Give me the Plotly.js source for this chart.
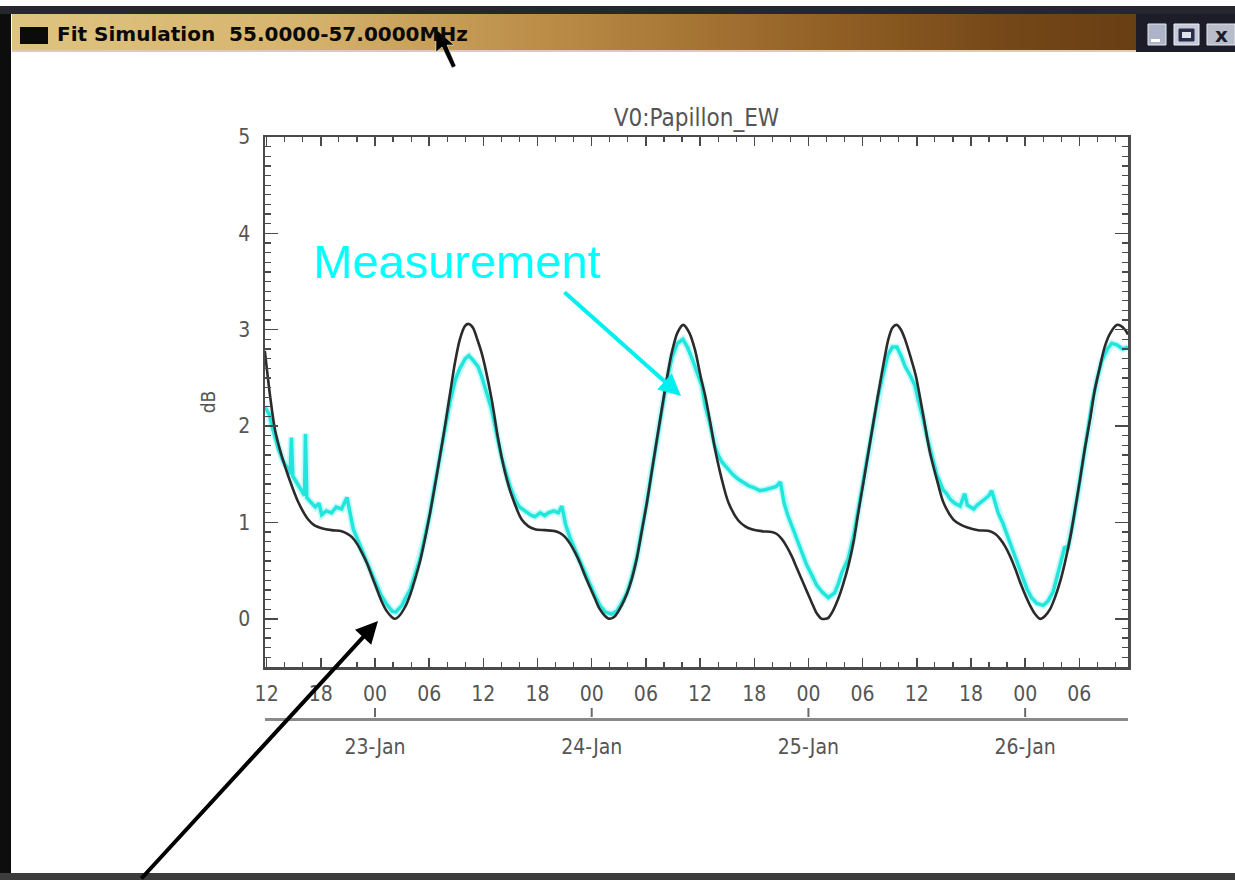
<!DOCTYPE html>
<html>
<head>
<meta charset="utf-8">
<script src="https://cdn.plot.ly/plotly-3.0.1.min.js"></script>
<style>
  html, body { margin: 0; padding: 0; background: #ffffff; }
  #chart { width: 1235px; height: 880px; }
</style>
</head>
<body>
<div id="chart"></div>
<script>
// ---------------- DATA (hours since 22-Jan 12:00 UT, dB) ----------------
const windowTitle = 'Fit Simulation\u00a0\u00a055.0000-57.0000MHz';
const plotTitle = 'V0:Papillon_EW';
const yAxisLabel = 'dB';
const annotationText = 'Measurement';
const dayTicks = ['2010-01-23 00:00:00', '2010-01-24 00:00:00', '2010-01-25 00:00:00', '2010-01-26 00:00:00'];

// Simulated (fit) curve - black
const modelHours = [-0.2, 0.4, 0.93, 1.67, 2.4, 3.51, 4.61, 5.3, 6.1, 7.2, 8.31, 9.0, 9.42, 10.0, 10.53, 11.1, 11.63, 12.2, 12.74, 13.3,
  13.85, 14.2, 14.58, 15.32, 15.9, 16.43, 17.0, 17.54, 18.1, 18.64, 19.2, 19.75, 20.3, 20.86, 21.4, 21.97, 22.4, 22.85, 23.4, 23.81,
  24.18, 24.92, 25.65, 26.4, 27.14, 28.25, 29.0, 29.72, 30.8, 31.93, 32.5, 33.04, 33.6, 34.15, 34.7, 35.25, 35.8, 36.36, 36.9, 37.47,
  38.0, 38.6, 39.32, 39.9, 40.43, 41.0, 41.53, 42.1, 42.64, 43.2, 43.75, 44.3, 44.86, 45.5, 46.14, 46.8, 47.44, 48.1, 48.6, 49.2,
  49.66, 50.4, 51.13, 52.24, 53.0, 53.72, 54.8, 55.93, 56.5, 57.04, 57.6, 58.15, 58.7, 59.25, 59.8, 60.36, 60.9, 61.47, 61.9, 62.2,
  62.7, 63.31, 63.85, 64.42, 65.0, 65.52, 66.1, 66.63, 67.2, 67.74, 68.3, 68.85, 69.3, 69.78, 70.25, 70.7, 71.3, 71.9, 72.7, 73.47,
  74.21, 74.94, 76.05, 76.8, 77.53, 78.8, 80.11, 80.7, 81.22, 81.8, 82.33, 82.9, 83.44, 84.0, 84.54, 85.1, 85.65, 86.2, 86.76, 87.3,
  87.86, 88.4, 88.97, 89.5, 90.08, 90.6, 91.19, 91.7, 92.29, 92.8, 93.4, 94.14, 94.6, 95.06, 95.4];
const modelDb = [2.78, 2.3, 1.96, 1.69, 1.48, 1.21, 1.03, 0.97, 0.94, 0.92, 0.91, 0.88, 0.85, 0.78, 0.69, 0.58, 0.45, 0.31, 0.18, 0.08,
  0.02, 0.0, 0.02, 0.12, 0.25, 0.41, 0.6, 0.83, 1.1, 1.38, 1.69, 2.0, 2.33, 2.66, 2.9, 3.04, 3.06, 3.02, 2.88, 2.76,
  2.62, 2.28, 1.86, 1.52, 1.28, 1.03, 0.96, 0.93, 0.92, 0.91, 0.89, 0.85, 0.78, 0.69, 0.58, 0.45, 0.33, 0.21, 0.1, 0.03,
  0.0, 0.03, 0.14, 0.26, 0.41, 0.63, 0.9, 1.2, 1.52, 1.85, 2.17, 2.48, 2.76, 2.97, 3.05, 2.97, 2.79, 2.5, 2.3, 2.0,
  1.76, 1.45, 1.21, 1.02, 0.96, 0.93, 0.91, 0.9, 0.88, 0.83, 0.75, 0.65, 0.53, 0.41, 0.29, 0.17, 0.06, 0.0, 0.0, 0.01,
  0.08, 0.21, 0.36, 0.55, 0.8, 1.1, 1.42, 1.72, 2.04, 2.34, 2.64, 2.9, 3.02, 3.05, 3.0, 2.9, 2.72, 2.52, 2.12, 1.72,
  1.45, 1.21, 1.03, 0.98, 0.95, 0.92, 0.91, 0.88, 0.83, 0.75, 0.65, 0.52, 0.38, 0.25, 0.14, 0.05, 0.0, 0.03, 0.1, 0.22,
  0.38, 0.58, 0.83, 1.12, 1.45, 1.76, 2.07, 2.37, 2.62, 2.82, 2.96, 3.05, 3.04, 3.0, 2.95];

// Measurement - cyan
const measHours = [-0.2, 0.3, 0.6, 1.0, 1.3, 1.8, 2.4, 2.6, 2.75, 2.9, 3.5, 4.0, 4.2, 4.3, 4.45, 4.8, 5.4, 5.8, 6.1, 6.6,
  7.2, 7.7, 8.3, 8.9, 9.3, 9.6, 10.0, 10.5, 11.1, 11.6, 12.2, 12.7, 13.3, 13.9, 14.3, 14.6, 15.0, 15.3, 15.9, 16.4,
  17.0, 17.5, 18.1, 18.6, 19.2, 19.8, 20.3, 20.9, 21.4, 22.0, 22.4, 22.9, 23.4, 23.8, 24.2, 24.9, 25.6, 26.0, 26.4, 27.0,
  27.5, 28.0, 28.6, 29.2, 29.7, 30.3, 30.8, 31.2, 31.8, 32.3, 32.7, 33.1, 33.6, 34.2, 34.7, 35.3, 35.8, 36.4, 36.9, 37.5,
  38.2, 38.8, 39.3, 39.9, 40.4, 41.0, 41.5, 42.1, 42.6, 43.2, 43.7, 44.3, 44.9, 45.5, 46.1, 46.6, 47.2, 47.6, 48.2, 48.6,
  49.0, 49.6, 50.0, 50.4, 51.1, 51.6, 52.2, 52.8, 53.4, 54.0, 54.6, 55.2, 55.9, 56.4, 56.9, 57.3, 57.7, 58.2, 58.7, 59.3,
  59.8, 60.4, 60.9, 61.5, 62.2, 62.9, 63.3, 63.7, 64.4, 65.0, 65.5, 66.1, 66.6, 67.2, 67.7, 68.3, 68.8, 69.3, 69.8, 70.3,
  70.7, 71.3, 71.8, 72.3, 72.7, 73.1, 73.5, 74.2, 74.9, 75.3, 75.7, 76.2, 76.8, 77.3, 77.6, 78.3, 78.7, 79.0, 79.5, 80.0,
  80.3, 80.7, 81.0, 81.5, 81.9, 82.5, 83.1, 83.6, 84.2, 84.7, 85.3, 86.0, 86.5, 87.1, 87.6, 88.2, 88.4, 88.7, 89.3, 89.8,
  90.3, 90.9, 91.4, 92.0, 92.5, 93.1, 93.6, 94.2, 94.8, 95.4];
const measDb = [2.2, 2.12, 2.0, 1.86, 1.76, 1.64, 1.55, 1.5, 1.88, 1.48, 1.38, 1.3, 1.28, 1.92, 1.26, 1.22, 1.16, 1.2, 1.08, 1.12,
  1.1, 1.16, 1.14, 1.26, 1.05, 0.93, 0.84, 0.72, 0.6, 0.48, 0.35, 0.24, 0.15, 0.08, 0.07, 0.1, 0.14, 0.2, 0.3, 0.45,
  0.63, 0.84, 1.1, 1.38, 1.68, 1.98, 2.25, 2.48, 2.6, 2.7, 2.73, 2.68, 2.62, 2.52, 2.4, 2.18, 1.86, 1.68, 1.55, 1.36,
  1.24, 1.16, 1.12, 1.08, 1.06, 1.1, 1.07, 1.1, 1.12, 1.1, 1.17, 0.98, 0.84, 0.7, 0.6, 0.47, 0.35, 0.23, 0.14, 0.07,
  0.05, 0.08, 0.16, 0.27, 0.42, 0.64, 0.9, 1.2, 1.5, 1.84, 2.14, 2.46, 2.72, 2.86, 2.9, 2.82, 2.68, 2.58, 2.42, 2.2,
  2.06, 1.8, 1.7, 1.63, 1.55, 1.5, 1.45, 1.41, 1.38, 1.36, 1.33, 1.34, 1.36, 1.37, 1.42, 1.2, 1.08, 0.96, 0.82, 0.68,
  0.56, 0.45, 0.35, 0.28, 0.22, 0.27, 0.36, 0.48, 0.62, 0.86, 1.12, 1.42, 1.7, 2.02, 2.3, 2.55, 2.74, 2.82, 2.82, 2.72,
  2.62, 2.52, 2.42, 2.22, 2.08, 1.9, 1.76, 1.5, 1.34, 1.3, 1.24, 1.2, 1.17, 1.3, 1.18, 1.14, 1.18, 1.2, 1.24, 1.28,
  1.33, 1.2, 1.1, 1.0, 0.9, 0.74, 0.59, 0.45, 0.31, 0.22, 0.16, 0.14, 0.18, 0.28, 0.45, 0.66, 0.75, 0.72, 1.0, 1.28,
  1.58, 1.92, 2.24, 2.5, 2.68, 2.8, 2.86, 2.84, 2.8, 2.82];

// time window shown (hours since 22-Jan 12:00)
const xStartHour = -0.18;
const xEndHour = 95.39;
const yRange = [-0.5, 5];

// ---------------- helpers ----------------
const T0 = Date.UTC(2010, 0, 22, 12, 0, 0);
function hToDate(h) {
  return new Date(T0 + h * 3600000).toISOString().replace('T', ' ').replace('Z', '');
}
const modelX = modelHours.map(hToDate);
const measX = measHours.map(hToDate);
const xRange = [hToDate(xStartHour), hToDate(xEndHour)];

// page geometry
const W = 1235, H = 880;
const L = 265, R = 1128, TOP = 137, BOT = 718, AXB = 667;
const PW = R - L, PH = BOT - TOP;
const X = px => (px - L) / PW;
const Y = py => (BOT - py) / PH;

const tickFont = { family: 'DejaVu Sans Condensed, sans-serif', size: 21, color: '#555555' };
const axisColor = '#4a4a4a';

// ---------------- traces ----------------
const traces = [
  { x: measX, y: measDb, type: 'scatter', mode: 'lines', xaxis: 'x', yaxis: 'y',
    line: { color: 'rgba(60,240,235,0.3)', width: 7 }, hoverinfo: 'skip', showlegend: false },
  { x: measX, y: measDb, type: 'scatter', mode: 'lines', xaxis: 'x', yaxis: 'y',
    line: { color: '#22e6dc', width: 3.5 }, name: 'Measurement', showlegend: false },
  { x: modelX, y: modelDb, type: 'scatter', mode: 'lines', xaxis: 'x', yaxis: 'y',
    line: { color: '#2b2b2b', width: 2.6, shape: 'spline', smoothing: 0.8 }, name: 'Simulation', showlegend: false },
  // carrier for the date axis (not visible)
  { x: modelX, y: modelDb, type: 'scatter', mode: 'lines', xaxis: 'x2', yaxis: 'y2',
    line: { color: 'rgba(0,0,0,0)', width: 0 }, hoverinfo: 'skip', showlegend: false }
];

// ---------------- window chrome shapes ----------------
const shapes = [];
function rect(x0, y0, x1, y1, fill, lineColor, lw) {
  shapes.push({ type: 'rect', xref: 'paper', yref: 'paper', x0: X(x0), x1: X(x1), y0: Y(y1), y1: Y(y0),
    fillcolor: fill, line: { color: lineColor || fill, width: lw || 0 }, layer: 'above' });
}
// top strip
rect(0, 6, 1235, 14, '#26262e');
// title bar gradient
const stops = [[12, [222, 196, 128]], [300, [214, 180, 110]], [550, [186, 140, 70]], [800, [150, 100, 40]],
               [1000, [118, 72, 24]], [1136, [104, 62, 20]]];
function colAt(px) {
  for (let i = 0; i < stops.length - 1; i++) {
    const a = stops[i], b = stops[i + 1];
    if (px >= a[0] && px <= b[0]) {
      const t = (px - a[0]) / (b[0] - a[0]);
      const c = a[1].map((v, k) => Math.round(v + (b[1][k] - v) * t));
      return 'rgb(' + c.join(',') + ')';
    }
  }
  return 'rgb(' + stops[stops.length - 1][1].join(',') + ')';
}
for (let px = 12; px < 1136; px += 8) {
  rect(px, 14, Math.min(px + 8.5, 1136), 51, colAt(px + 4));
}
rect(12, 50, 1136, 52, '#d8cdb8');
// right button area
rect(1136, 14, 1235, 52, '#1d1d2a');
rect(1148, 24, 1166, 45, '#aeb4c8', '#e6e8f0', 1);
rect(1151, 39, 1160, 42, '#ffffff');
rect(1174, 24, 1199, 45, '#c5cadb', '#eef0f6', 1);
rect(1179, 29, 1194, 41, '#2a2d48', '#2a2d48', 1);
rect(1182, 32, 1191, 38, '#dfe2ec');
rect(1207, 24, 1235, 45, '#b8bccb', '#e6e8f0', 1);
// window icon
rect(20, 27, 48, 44, '#0b0b0b');
// left border and bottom border
rect(0, 14, 11, 880, '#0d0d0d');
rect(0, 873, 1235, 880, '#3c3c3c');
// mouse cursor
shapes.push({ type: 'path', xref: 'paper', yref: 'paper', layer: 'above',
  path: 'M ' + X(436) + ' ' + Y(29) + ' L ' + X(436) + ' ' + Y(52) + ' L ' + X(442) + ' ' + Y(47) +
        ' L ' + X(452) + ' ' + Y(68) + ' L ' + X(456) + ' ' + Y(66) + ' L ' + X(447) + ' ' + Y(45) +
        ' L ' + X(454) + ' ' + Y(45) + ' Z',
  fillcolor: '#000000', line: { color: '#ffffff', width: 0.5 } });
// day tick marks on the date axis (pointing up from the date-axis line)
dayTicks.forEach(d => {
  shapes.push({ type: 'line', xref: 'x2', yref: 'paper', x0: d, x1: d, y0: Y(717), y1: Y(708),
    line: { color: '#6a6a6a', width: 2 }, layer: 'above' });
});

// ---------------- annotations ----------------
const annotations = [
  { xref: 'paper', yref: 'paper', x: X(55), y: Y(34), xanchor: 'left', yanchor: 'middle', showarrow: false,
    text: '<b>' + windowTitle + '</b>',
    font: { family: 'DejaVu Sans, sans-serif', size: 20, color: '#0a0a0a' } },
  { xref: 'paper', yref: 'paper', x: X(1221), y: Y(35), xanchor: 'center', yanchor: 'middle', showarrow: false,
    text: '<b>x</b>', font: { family: 'DejaVu Sans, sans-serif', size: 20, color: '#1d1d2a' } },
  { xref: 'paper', yref: 'paper', x: X(456), y: Y(261), xanchor: 'center', yanchor: 'middle', showarrow: false,
    text: annotationText, font: { family: 'Liberation Sans, Arial, sans-serif', size: 47, color: '#00ffff' } },
  // cyan arrow to the measurement
  { xref: 'paper', yref: 'paper', x: X(681), y: Y(396), ax: 563 - 681, ay: 291 - 396, axref: 'pixel', ayref: 'pixel',
    text: '', showarrow: true, arrowhead: 2, arrowsize: 1.1, arrowwidth: 4, arrowcolor: '#00f0f0' },
  // black arrow to the simulated minimum
  { xref: 'paper', yref: 'paper', x: X(378), y: Y(621), ax: 140 - 378, ay: 885 - 621, axref: 'pixel', ayref: 'pixel',
    text: '', showarrow: true, arrowhead: 2, arrowsize: 1.1, arrowwidth: 4, arrowcolor: '#000000' }
];

// ---------------- layout ----------------
const layout = {
  width: W, height: H, autosize: false,
  margin: { l: L, r: W - R, t: TOP, b: H - BOT, pad: 0 },
  paper_bgcolor: '#ffffff', plot_bgcolor: 'rgba(0,0,0,0)',
  showlegend: false,
  title: { text: plotTitle, x: 0.5, xref: 'paper', xanchor: 'center', y: 1 - 118 / H, yanchor: 'middle',
           font: { family: 'DejaVu Sans Condensed, sans-serif', size: 24, color: '#555555' } },
  xaxis: {
    type: 'date', range: xRange, anchor: 'y', domain: [0, 1],
    tick0: '2010-01-22 00:00:00', dtick: 21600000, tickformat: '%H',
    ticks: 'inside', ticklen: 9, tickwidth: 1.5, tickcolor: axisColor,
    minor: { dtick: 7200000, ticks: 'inside', ticklen: 5, tickwidth: 1.2, tickcolor: axisColor, showgrid: false },
    showline: true, linecolor: axisColor, linewidth: 2.5, mirror: 'ticks',
    showgrid: false, zeroline: false, tickfont: tickFont, ticklabelstandoff: 6
  },
  xaxis2: {
    type: 'date', range: xRange, anchor: 'y2', domain: [0, 1],
    tickvals: dayTicks, tickformat: '%d-%b',
    ticks: '', showline: true, linecolor: '#8a8a8a', linewidth: 2.5,
    showgrid: false, zeroline: false, tickfont: tickFont, ticklabelstandoff: 8
  },
  yaxis2: {
    domain: [0, 0.03], anchor: 'x2', range: [100, 101], showline: false, showticklabels: false,
    ticks: '', showgrid: false, zeroline: false, fixedrange: true
  },
  yaxis: {
    range: yRange, domain: [(BOT - AXB) / PH, 1], anchor: 'x',
    tick0: 0, dtick: 1, ticks: 'inside', ticklen: 13, tickwidth: 1.5, tickcolor: axisColor,
    minor: { dtick: 0.1, ticks: 'inside', ticklen: 6, tickwidth: 1.2, tickcolor: axisColor, showgrid: false },
    showline: true, linecolor: axisColor, linewidth: 2.5, mirror: 'ticks',
    showgrid: false, zeroline: false, tickfont: tickFont, ticklabelstandoff: 8,
    title: { text: yAxisLabel, standoff: 18, font: { family: 'DejaVu Sans Condensed, sans-serif', size: 19, color: '#555555' } }
  },
  shapes: shapes,
  annotations: annotations
};

Plotly.newPlot('chart', traces, layout, { displayModeBar: false, staticPlot: true });
</script>
</body>
</html>
